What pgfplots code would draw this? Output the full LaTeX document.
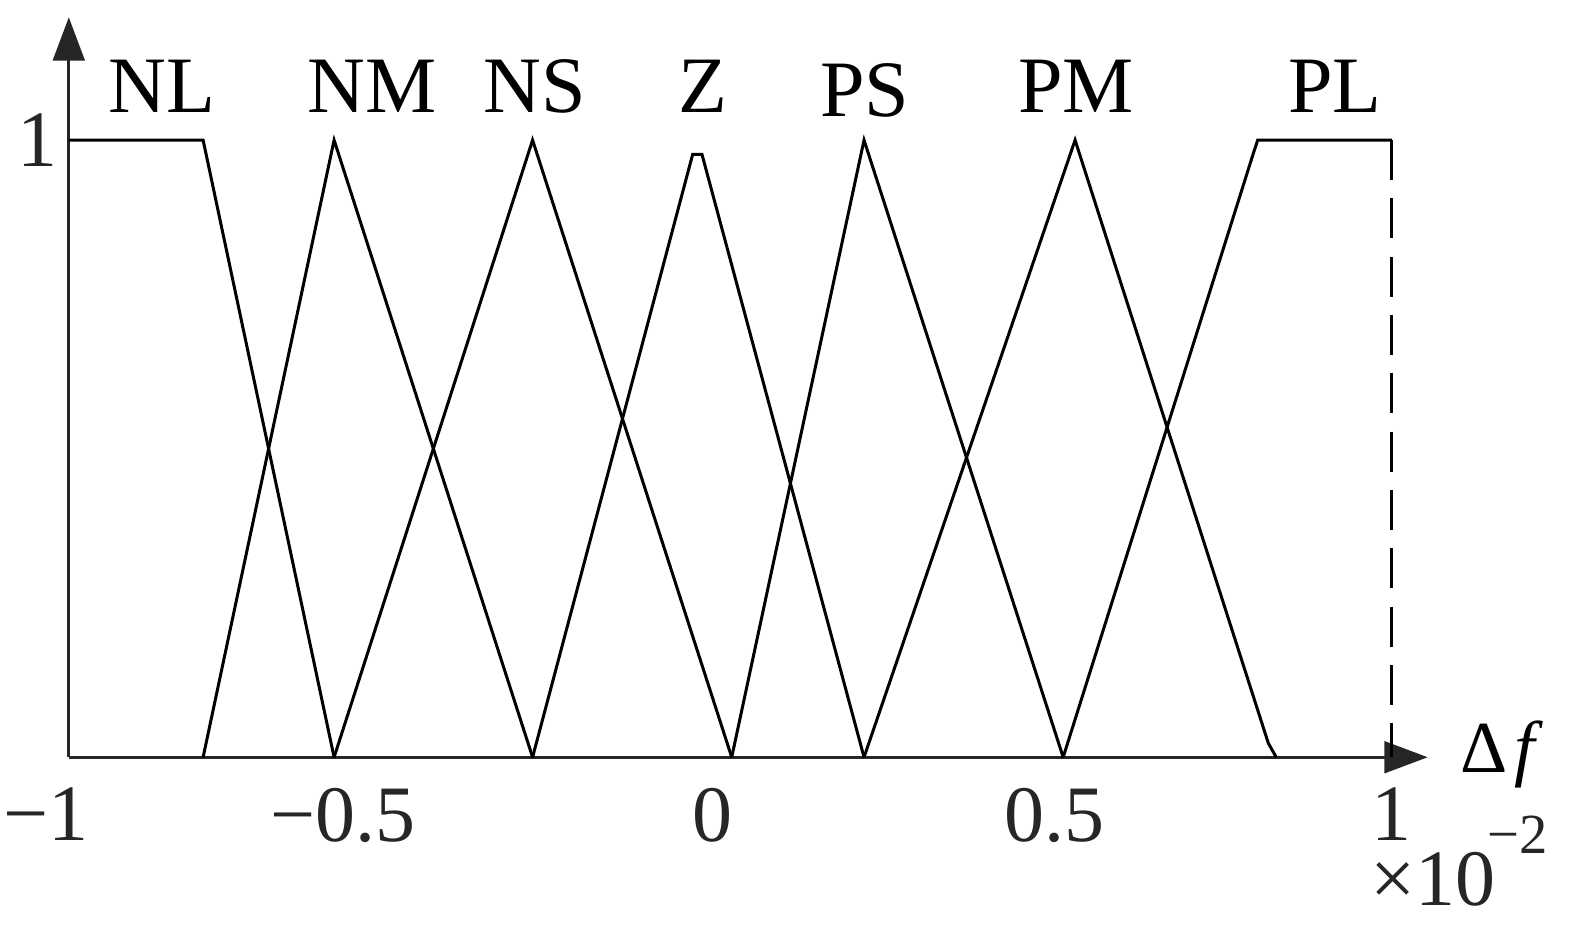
\documentclass[border=0pt]{standalone}
\usepackage{pgfplots}
\pgfplotsset{compat=1.18}
\usepackage{fontspec}
\setmainfont{Liberation Serif}
\usetikzlibrary{arrows.meta}

\begin{document}
\begin{tikzpicture}
\begin{axis}[
  scale only axis,
  width=407.7pt, height=222pt,
  xmin=-1, xmax=1.054, ymin=0, ymax=1.199,
  axis lines=left,
  axis line style={line width=0.9pt, color=black!85, -{Triangle[length=13pt,width=9.5pt]}},
  xtick={-1,-0.551,-0.0265,0.4906,1},
  xticklabels={\llap{−}1, \llap{−}0.5, 0, 0.5, 1},
  ytick={1}, yticklabels={1},
  major tick length=0pt,
  tick label style={font=\fontsize{24}{28}\selectfont, text=black!85},
  xticklabel style={inner sep=0pt, yshift=-9pt},
  clip=false,
  mf/.style={black, line width=0.9pt, mark=none, solid},
]
% NL
\addplot[mf] coordinates {(-1,1) (-0.797,1) (-0.599,0)};
% NM
\addplot[mf] coordinates {(-0.797,0) (-0.599,1) (-0.299,0)};
% NS
\addplot[mf] coordinates {(-0.599,0) (-0.299,1) (0.002,0)};
% Z
\addplot[mf] coordinates {(-0.299,0) (-0.057,0.977) (-0.043,0.977) (0.202,0)};
% PS
\addplot[mf] coordinates {(0.002,0) (0.202,1) (0.503,0)};
% PM
\addplot[mf] coordinates {(0.202,0) (0.521,1) (0.813,0.023) (0.825,0)};
% PL
\addplot[mf] coordinates {(0.503,0) (0.790,0.977) (0.797,1) (1,1)};
\addplot[mf, dash pattern=on 12pt off 5.5pt] coordinates {(1,1) (1,0)};

\begin{scope}[every node/.style={font=\fontsize{24}{28}\selectfont, anchor=base, inner sep=0pt}]
\node at (axis cs:-0.859,1.045) {NL};
\node at (axis cs:-0.542,1.045) {NM};
\node at (axis cs:-0.296,1.045) {NS};
\node at (axis cs:-0.0416,1.045) {Z};
\node at (axis cs:0.2033,1.039) {PS};
\node at (axis cs:0.5223,1.045) {PM};
\node at (axis cs:0.9138,1.045) {PL};
\node[anchor=base west, font=\fontsize{22}{26}\selectfont] at (axis cs:1.103,-0.024) {Δ\hspace{2pt}\textit{f}};
\node[anchor=base west, text=black!85] at (axis cs:0.9668,-0.240) {×10};
\node[anchor=base west, text=black!85, font=\fontsize{17}{20}\selectfont] at (axis cs:1.1436,-0.1556) {−2};
\end{scope}
\path (axis cs:-1.104,-0.274) rectangle (axis cs:1.2706,1.227);
\end{axis}
\end{tikzpicture}
\end{document}
